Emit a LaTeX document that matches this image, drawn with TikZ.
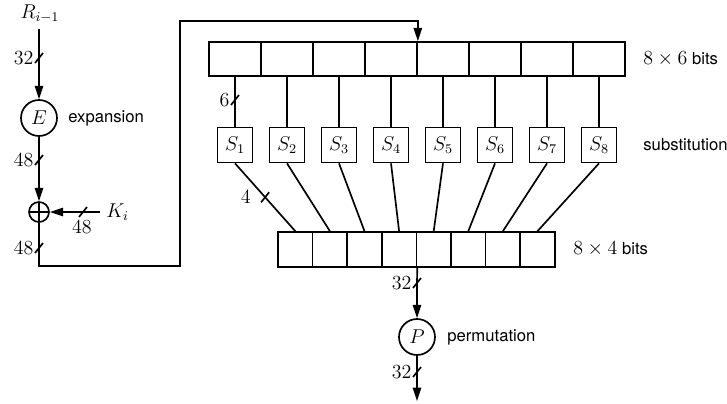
\documentclass[tikz,border=0pt]{standalone}
\usepackage{amsmath}
\usepackage{fontspec}
\setsansfont{TeX Gyre Heros}
\usepackage{tikz}
\usetikzlibrary{arrows.meta,calc}
\newcommand{\busmark}[2]{%
  \draw (#1) +(-4,5) -- +(4,-5);
  \node[anchor=east,inner sep=1pt] (#1-lbl) at ($(#1)+(-3,0)$) {$#2$};}

\begin{document}
\begin{tikzpicture}[x=0.6pt,y=-0.6pt,line width=1pt,font=\large,
  arr/.style={-{Triangle[length=8pt,width=5pt]}},
  fn/.style={draw,circle,minimum size=21.6pt,inner sep=0pt},
  cellsix/.style={draw,minimum width=31.2pt,minimum height=20.4pt,inner sep=0pt},
  sbox/.style={draw,minimum size=21pt,inner sep=0pt},
  cellfour/.style={draw,minimum width=20.76pt,minimum height=21pt,inner sep=0pt},
  lbl/.style={anchor=west,font=\normalsize\sffamily}]
\useasboundingbox (0,0) rectangle (727,403);
% left branch: R_{i-1}, expansion, key mixing
\node (R) at (40,14) {$R_{i-1}$};
\node[fn] (E) at (39,118) {$E$};
\node[lbl] (E-lbl) at (62,118) {expansion};
\node[draw,circle,minimum size=12pt,inner sep=0pt,
  path picture={\draw (path picture bounding box.north) -- (path picture bounding box.south)
    (path picture bounding box.west) -- (path picture bounding box.east);}] (xor) at (39,212) {};
\node[anchor=west] (K) at (100,212) {$K_i$};
\coordinate (w1) at (39,58);
\coordinate (w2) at (39,160);
\coordinate (w3) at (83,212);
\coordinate (w4) at (39,248);
\draw[arr] (R.south -| E) -- (w1) -- (E);
\draw[arr] (E) -- (w2) -- (xor);
\draw[arr] (K) -- (w3) -- (xor);
\busmark{w1}{32}
\busmark{w2}{48}
\busmark{w4}{48}
\draw (w3) +(-4,5) -- +(4,-5);
\node (w3-lbl) at (82,227) {$48$};
% registers and S-boxes
\foreach \i in {1,...,8}{
  \node[cellsix] (t\i) at ({235+52*(\i-1)},59) {};
  \node[sbox] (s\i) at ({235+52*(\i-1)},145) {$S_{\i}$};
  \node[cellfour] (b\i) at ({295.3+34.6*(\i-1)},249.5) {};
  \draw (t\i) -- (s\i);
  \draw (s\i.south) -- (b\i.north);
}
\coordinate (c1) at (180,266);
\coordinate (c2) at ($(t4.north east)+(0,-20)$);
\draw[arr] (xor) -- (w4) |- (c1) |- (c2) -- (t4.north east);
\coordinate (w5) at (235,100);
\busmark{w5}{6}
\coordinate (w6) at ($(s1.south)!0.5!(b1.north)$);
\draw (w6) +(-4,5) -- +(4,-5);
\node[anchor=east,inner sep=1pt] (w6-lbl) at ($(w6)+(-12,0)$) {$4$};
% output permutation
\coordinate (w7) at (417,283);
\node[fn] (P) at (417,337) {$P$};
\node[lbl] (P-lbl) at (441,337) {permutation};
\coordinate (w8) at (417,372);
\coordinate (out) at (417,401);
\draw[arr] (b4.south east) -- (w7) -- (P);
\draw[arr] (P) -- (w8) -- (out);
\busmark{w7}{32}
\busmark{w8}{32}
\node[lbl] (t-lbl) at (637,59) {{\large$8\times6$} bits};
\node[lbl] (s-lbl) at (637,145) {substitution};
\node[lbl] (b-lbl) at (567,249) {{\large$8\times4$} bits};
\end{tikzpicture}
\end{document}
